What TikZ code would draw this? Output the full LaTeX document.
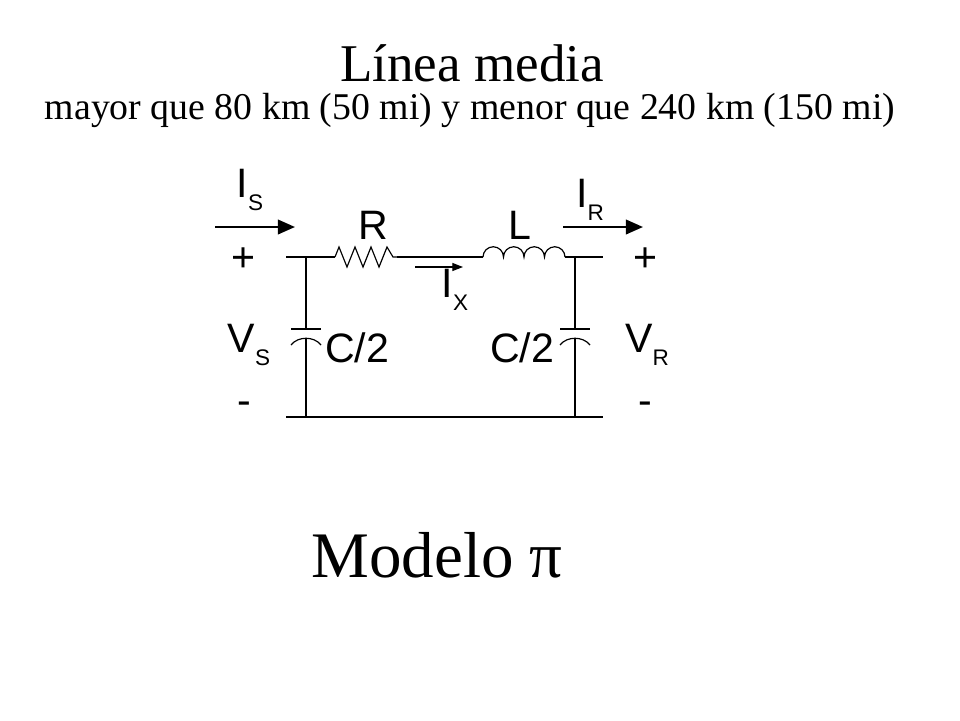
\documentclass[tikz,border=0pt]{standalone}
\usepackage{fontspec}
\setmainfont{Liberation Serif}
\newfontfamily\arial{Liberation Sans}
\usetikzlibrary{arrows.meta}
\newcommand{\sbs}[1]{\raisebox{-0.3em}{\fontsize{17}{19}\selectfont #1}}
\begin{document}
\begin{tikzpicture}[x=0.0265cm,y=-0.0265cm]

\tikzset{lbl/.style = {font=\arial\fontsize{31}{34}\selectfont}}
\tikzset{wire/.style = {line width=0.9pt}}
\tikzset{curr/.style = {line width=1.8pt, -{Triangle[length=13pt,width=11pt]}}}
\useasboundingbox (0,0) rectangle (960,720);
%titles
\node[font=\fontsize{40}{44}\selectfont] (title) at (472,63) {Línea media};
\node[font=\fontsize{28.5}{32}\selectfont] (sub) at (470,110) {mayor que 80 km (50 mi) y menor que 240 km (150 mi)};
\node[font=\fontsize{49}{54}\selectfont] (model) at (437,555) {Modelo π};
%coordinates
\coordinate (a) at (286,257);
\coordinate (b) at (603,257);
\coordinate (c) at (286,417);
\coordinate (d) at (603,417);
\coordinate (r1) at (335,257);
\coordinate (r2) at (397,257);
\coordinate (l1) at (483,257);
\coordinate (l2) at (565,257);
%wires
\draw[wire] (a) -- (r1);
\draw[wire] (r1) -- ++(4,-10) -- ++(8,20) -- ++(8,-20) -- ++(8,20) -- ++(8,-20) -- ++(8,20) -- ++(8,-20) -- ++(6,10) -- (r2);
\draw[wire] (r2) -- (l1);
\draw[wire] (l1) arc (180:360:10.25) arc (180:360:10.25) arc (180:360:10.25) arc (180:360:10.25);
\draw[wire] (l2) -- (b);
\draw[wire] (c) -- (d);
%capacitors
\foreach \x in {306,575} {
  \draw[wire] (\x,257) -- (\x,329);
  \draw[wire] (\x-15,329) -- (\x+15,329);
  \draw[wire] (\x-15,345) .. controls (\x-8,336) and (\x+8,336) .. (\x+15,345);
  \draw[wire] (\x,337.5) -- (\x,417);
}
%currents
\draw[curr] (215,227) -- (295,227);
\draw[curr] (563,227) -- (643,227);
\draw[wire, -{Triangle[length=8pt,width=6pt]}] (415,267) -- (463,267);
%labels
\node[lbl] (is) at (250,190) {I\sbs{S}};
\node[lbl] (ir) at (590,200) {I\sbs{R}};
\node[lbl] (rl) at (373,225) {R};
\node[lbl] (ll) at (520,225) {L};
\node[lbl] (ix) at (455,290) {I\sbs{X}};
\node[lbl] (p1) at (244,260) {+};
\node[lbl] (p2) at (645,260) {+};
\node[lbl] (vs) at (249,345) {V\sbs{S}};
\node[lbl] (vr) at (647,345) {V\sbs{R}};
\node[lbl] (c1) at (357,348) {C/2};
\node[lbl] (c2) at (522,348) {C/2};
\node[lbl] (m1) at (244,408) {-};
\node[lbl] (m2) at (645,408) {-};

\end{tikzpicture}
\end{document}
